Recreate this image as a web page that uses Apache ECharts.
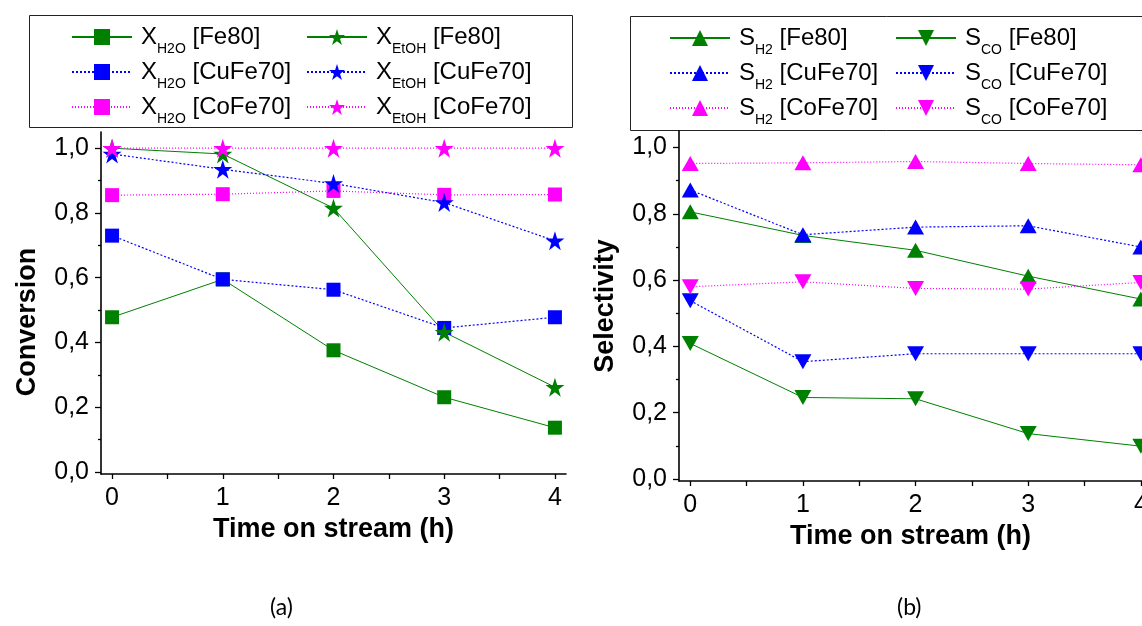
<!DOCTYPE html>
<html><head><meta charset="utf-8">
<script src="https://cdn.jsdelivr.net/npm/echarts@6/dist/echarts.min.js"></script>
<style>html,body{margin:0;padding:0;background:#fff}#c{width:1142px;height:626px}</style>
</head><body><div id="c"></div>
<script>
// ---- data ----
const hours = [0, 1, 2, 3, 4];
const xTickLabels = [0, 1, 2, 3, 4];
const xTicks = [0, 0.5, 1, 1.5, 2, 2.5, 3, 3.5, 4];
const yTickLabels = [0, 0.2, 0.4, 0.6, 0.8, 1.0];
const yMinorTicks = [0.1, 0.3, 0.5, 0.7, 0.9];

// (a) conversion
const xH2O_Fe80    = [0.478, 0.595, 0.376, 0.231, 0.137];
const xH2O_CuFe70  = [0.730, 0.595, 0.563, 0.445, 0.478];
const xH2O_CoFe70  = [0.855, 0.858, 0.868, 0.856, 0.857];
const xEtOH_Fe80   = [1.000, 0.982, 0.815, 0.432, 0.262];
const xEtOH_CuFe70 = [0.982, 0.935, 0.891, 0.832, 0.714];
const xEtOH_CoFe70 = [1.000, 1.000, 1.000, 1.000, 1.000];
// (b) selectivity
const sH2_Fe80    = [0.806, 0.735, 0.690, 0.612, 0.543];
const sH2_CuFe70  = [0.872, 0.737, 0.760, 0.764, 0.700];
const sH2_CoFe70  = [0.952, 0.954, 0.958, 0.952, 0.948];
const sCO_Fe80    = [0.409, 0.246, 0.242, 0.137, 0.099];
const sCO_CuFe70  = [0.538, 0.354, 0.378, 0.378, 0.378];
const sCO_CoFe70  = [0.580, 0.595, 0.575, 0.573, 0.593];

const names = {
  a1: 'X_H2O [Fe80]', a2: 'X_H2O [CuFe70]', a3: 'X_H2O [CoFe70]',
  a4: 'X_EtOH [Fe80]', a5: 'X_EtOH [CuFe70]', a6: 'X_EtOH [CoFe70]',
  b1: 'S_H2 [Fe80]', b2: 'S_H2 [CuFe70]', b3: 'S_H2 [CoFe70]',
  b4: 'S_CO [Fe80]', b5: 'S_CO [CuFe70]', b6: 'S_CO [CoFe70]'
};

// ---- styles ----
const FONT = '"Liberation Sans", Arial, sans-serif';
const GREEN = '#008000', BLUE = '#0000ff', MAG = '#ff00ff';
const STAR = 'path://M50,2 L61.2,36.6 L97.6,36.6 L68.2,58 L79.4,92.6 L50,71.2 L20.6,92.6 L31.8,58 L2.4,36.6 L38.8,36.6 Z';
const LS = {
  fe: { color: GREEN, width: 1, type: 'solid' },
  cu: { color: BLUE, width: 1.2, type: [2, 2] },
  co: { color: MAG, width: 1.2, type: [1, 2] }
};

function series(name, vals, color, symbol, size, line, xi, yi, rot) {
  return {
    type: 'line', name: name, xAxisIndex: xi, yAxisIndex: yi,
    data: hours.map((h, i) => [h, vals[i]]),
    symbol: symbol, symbolSize: size, symbolRotate: rot || 0,
    showAllSymbol: true,
    itemStyle: { color: color, borderWidth: 0, opacity: 1 },
    lineStyle: line,
    emphasis: { disabled: true },
    animation: false
  };
}

const fmtY = v => v.toFixed(1).replace('.', ',');

function xAxis(gi, max) {
  return {
    type: 'value', gridIndex: gi, min: -0.1, max: max,
    axisLine: { show: true, onZero: false, lineStyle: { color: '#000', width: 1.6 } },
    axisTick: { show: true, inside: false, length: 5, customValues: xTicks, lineStyle: { color: '#000', width: 1.3 } },
    axisLabel: { customValues: xTickLabels, fontSize: 25, color: '#000', fontFamily: FONT, margin: 12, showMaxLabel: true, hideOverlap: false },
    splitLine: { show: false },
    name: 'Time on stream (h)', nameLocation: 'middle', nameGap: 38,
    nameTextStyle: { fontSize: 27, fontWeight: 'bold', color: '#000', fontFamily: FONT }
  };
}
function yAxis(gi, title, namePad) {
  return {
    type: 'value', gridIndex: gi, min: -0.006, max: 1.05, position: 'left',
    axisLine: { show: true, onZero: false, lineStyle: { color: '#000', width: 1.6 } },
    axisTick: { show: true, inside: false, length: 6, customValues: yTickLabels, lineStyle: { color: '#000', width: 1.3 } },
    axisLabel: { customValues: yTickLabels, formatter: fmtY, fontSize: 25, color: '#000', fontFamily: FONT, margin: 12 },
    splitLine: { show: false },
    name: title, nameLocation: 'middle', nameGap: 60,
    nameTextStyle: { fontSize: 27, fontWeight: 'bold', color: '#000', fontFamily: FONT, padding: namePad }
  };
}
function yMinor(gi) {
  return {
    type: 'value', gridIndex: gi, min: -0.006, max: 1.05, position: 'left', offset: 0,
    axisLine: { show: false, onZero: false },
    axisTick: { show: true, inside: false, length: 3, customValues: yMinorTicks, lineStyle: { color: '#000', width: 1.3 } },
    axisLabel: { show: false }, splitLine: { show: false }
  };
}

const legendRich = {
  f: { fontSize: 24, fontFamily: FONT, color: '#000', padding: [0, 0, 0, 4] },
  m: { fontSize: 24, fontFamily: FONT, color: '#000' },
  s: { fontSize: 14, fontFamily: FONT, color: '#000', padding: [24, 0, 0, 0], lineHeight: 10 }
};
function legendFmt(n) {
  const m = n.match(/^(\w)_(\w+) (.*)$/);
  return '{f|' + m[1] + '}{s|' + m[2] + '}{m| ' + m[3] + '}';
}
function legend(data, left, top) {
  return {
    data: data, orient: 'vertical', left: left, top: top, padding: 0,
    itemWidth: 60, itemHeight: 20, itemGap: -3, selectedMode: false,
    formatter: legendFmt,
    textStyle: { rich: legendRich, fontSize: 24, fontFamily: FONT, color: '#000' }
  };
}

const option = {
  backgroundColor: '#fff',
  animation: false,
  grid: [
    { left: 101, right: 576, top: 132, bottom: 152, containLabel: false, outerBoundsMode: 'none' },
    { left: 679, right: 0, top: 131, bottom: 145, containLabel: false, outerBoundsMode: 'none' }
  ],
  xAxis: [xAxis(0, 4.1), xAxis(1, 4.01)],
  yAxis: [yAxis(0, 'Conversion', [0, 38, 0, 0]), yMinor(0), yAxis(1, 'Selectivity', 0), yMinor(1)],
  legend: [
    legend([names.a1, names.a2, names.a3], 71, 18),
    legend([names.a4, names.a5, names.a6], 306, 18),
    legend([names.b1, names.b2, names.b3], 669, 19),
    legend([names.b4, names.b5, names.b6], 895, 19)
  ],
  graphic: [
    { type: 'rect', shape: { x: 29.5, y: 15.5, width: 543, height: 112 }, style: { fill: 'none', stroke: '#222', lineWidth: 1 }, z: -1 },
    { type: 'rect', shape: { x: 630.5, y: 16.5, width: 530, height: 114 }, style: { fill: 'none', stroke: '#222', lineWidth: 1 }, z: -1 },
    { type: 'text', left: 270, top: 596, style: { text: '(a)', fontSize: 23, fontFamily: 'Lato, "Open Sans", sans-serif', fill: '#000' } },
    { type: 'text', left: 897, top: 596, style: { text: '(b)', fontSize: 23, fontFamily: 'Lato, "Open Sans", sans-serif', fill: '#000' } }
  ],
  series: [
    series(names.a1, xH2O_Fe80, GREEN, 'rect', 14, LS.fe, 0, 0),
    series(names.a2, xH2O_CuFe70, BLUE, 'rect', 14, LS.cu, 0, 0),
    series(names.a3, xH2O_CoFe70, MAG, 'rect', 14, LS.co, 0, 0),
    series(names.a4, xEtOH_Fe80, GREEN, STAR, 19, LS.fe, 0, 0),
    series(names.a5, xEtOH_CuFe70, BLUE, STAR, 19, LS.cu, 0, 0),
    series(names.a6, xEtOH_CoFe70, MAG, STAR, 19, LS.co, 0, 0),
    series(names.b1, sH2_Fe80, GREEN, 'triangle', [17, 15], LS.fe, 1, 2),
    series(names.b2, sH2_CuFe70, BLUE, 'triangle', [17, 15], LS.cu, 1, 2),
    series(names.b3, sH2_CoFe70, MAG, 'triangle', [17, 15], LS.co, 1, 2),
    series(names.b4, sCO_Fe80, GREEN, 'triangle', [17, 15], LS.fe, 1, 2, 180),
    series(names.b5, sCO_CuFe70, BLUE, 'triangle', [17, 15], LS.cu, 1, 2, 180),
    series(names.b6, sCO_CoFe70, MAG, 'triangle', [17, 15], LS.co, 1, 2, 180)
  ]
};

const chart = echarts.init(document.getElementById('c'), null, { renderer: 'canvas' });
chart.setOption(option);
</script>
</body></html>
